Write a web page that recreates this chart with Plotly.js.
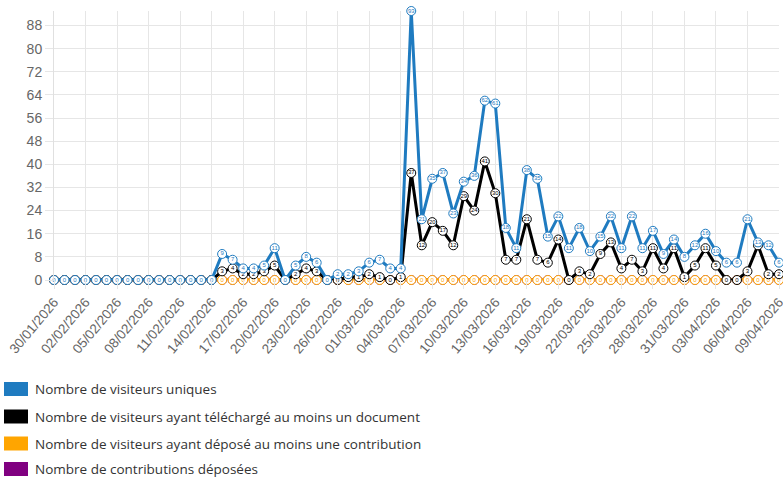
<!DOCTYPE html>
<html>
<head>
<meta charset="utf-8">
<script src="https://cdn.plot.ly/plotly-3.0.1.min.js"></script>
<style>html,body{margin:0;padding:0;background:#fff;}#chart{width:783px;height:477px;}</style>
</head>
<body>
<div id="chart"></div>
<script>
const dates = [
"30/01/2026","31/01/2026","01/02/2026","02/02/2026","03/02/2026","04/02/2026","05/02/2026","06/02/2026","07/02/2026","08/02/2026",
"09/02/2026","10/02/2026","11/02/2026","12/02/2026","13/02/2026","14/02/2026","15/02/2026","16/02/2026","17/02/2026","18/02/2026",
"19/02/2026","20/02/2026","21/02/2026","22/02/2026","23/02/2026","24/02/2026","25/02/2026","26/02/2026","27/02/2026","28/02/2026",
"01/03/2026","02/03/2026","03/03/2026","04/03/2026","05/03/2026","06/03/2026","07/03/2026","08/03/2026","09/03/2026","10/03/2026",
"11/03/2026","12/03/2026","13/03/2026","14/03/2026","15/03/2026","16/03/2026","17/03/2026","18/03/2026","19/03/2026","20/03/2026",
"21/03/2026","22/03/2026","23/03/2026","24/03/2026","25/03/2026","26/03/2026","27/03/2026","28/03/2026","29/03/2026","30/03/2026",
"31/03/2026","01/04/2026","02/04/2026","03/04/2026","04/04/2026","05/04/2026","06/04/2026","07/04/2026","08/04/2026","09/04/2026"
];
const tickLabels = ["30/01/2026","02/02/2026","05/02/2026","08/02/2026","11/02/2026","14/02/2026","17/02/2026","20/02/2026","23/02/2026",
"26/02/2026","01/03/2026","04/03/2026","07/03/2026","10/03/2026","13/03/2026","16/03/2026","19/03/2026","22/03/2026","25/03/2026",
"28/03/2026","31/03/2026","03/04/2026","06/04/2026","09/04/2026"];

const visiteursUniques = [
0,0,0,0,0,0,0,0,0,0,0,0,0,0,0,0,
9,7,4,4,5,11,0,5,8,6,
0,2,2,3,6,7,4,4,93,21,
35,37,23,34,36,62,61,18,11,38,
35,15,22,11,18,10,15,22,11,22,
11,17,9,14,8,12,16,10,6,6,
21,13,12,6];
const visiteursTelechargement = [
0,0,0,0,0,0,0,0,0,0,0,0,0,0,0,0,
3,4,2,2,3,5,0,2,4,3,
0,0,1,1,2,1,0,1,37,12,
20,17,12,29,24,41,30,7,7,21,
7,6,14,0,3,2,9,13,4,7,
3,11,4,11,1,5,11,5,0,0,
3,12,2,2];
const visiteursContribution = [
0,0,0,0,0,0,0,0,0,0,0,0,0,0,0,0,0,0,0,0,
0,0,0,0,0,0,0,0,0,0,0,0,0,0,0,0,0,0,0,0,
0,0,0,0,0,0,0,0,0,0,0,0,0,0,0,0,0,0,0,0,
0,0,0,0,0,0,0,0,0,0];
const contributionsDeposees = [
0,0,0,0,0,0,0,0,0,0,0,0,0,0,0,0,0,0,0,0,
0,0,0,0,0,0,0,0,0,0,0,0,0,0,0,0,0,0,0,0,
0,0,0,0,0,0,0,0,0,0,0,0,0,0,0,0,0,0,0,0,
0,0,0,0,0,0,0,0,0,0];

const seriesNames = [
"Nombre de visiteurs uniques",
"Nombre de visiteurs ayant téléchargé au moins un document",
"Nombre de visiteurs ayant déposé au moins une contribution",
"Nombre de contributions déposées"];
const seriesColors = ["#1f7bc0","#000000","#ffa500","#800080"];
const seriesValues = [visiteursUniques, visiteursTelechargement, visiteursContribution, contributionsDeposees];

// point label only where the point is not hidden under a series drawn above it
function labels(i){
  return seriesValues[i].map((v,k)=>{
    for (let j=0;j<i;j++){ if (seriesValues[j][k]===v) return ""; }
    return String(v);
  });
}
function mk(i){
  return {
    type:"scatter", mode:"lines+markers+text",
    x: dates, y: seriesValues[i], name: seriesNames[i],
    text: labels(i),
    textposition:"middle center",
    textfont:{size:6, color:seriesColors[i], family:"Liberation Sans"},
    line:{color:seriesColors[i], width:3},
    marker:{size:9, color:"#ffffff", line:{color:seriesColors[i], width:1}},
    cliponaxis:false, showlegend:false
  };
}
const traces = [mk(3), mk(2), mk(1), mk(0)];

// legend (Chart.js style boxes)
const L = 54, W = 725, B = 280, H = 269;
const px = p => (p - L)/W;
const py = p => (B - p)/H;
const rows = [389, 416.5, 443.5, 469];
const shapes = [], annotations = [];
rows.forEach((c,i)=>{
  shapes.push({type:"rect", xref:"paper", yref:"paper", x0:px(4), x1:px(28), y0:py(c+7), y1:py(c-7),
    fillcolor:seriesColors[i], line:{width:0}});
  annotations.push({xref:"paper", yref:"paper", x:px(33), y:py(c), xanchor:"left", yanchor:"middle",
    text:seriesNames[i], showarrow:false, font:{family:"Open Sans", size:13.5, color:"#333"}});
});

const layout = {
  width:783, height:477,
  margin:{l:54, r:4, t:11, b:197},
  paper_bgcolor:"#fff", plot_bgcolor:"#fff",
  showlegend:false,
  xaxis:{type:"category", range:[0,69], tickmode:"array", tickvals:tickLabels, ticktext:tickLabels,
    tickangle:-50, showgrid:true, gridcolor:"#e6e6e6", gridwidth:1, ticks:"outside", ticklen:8, tickcolor:"#e6e6e6",
    tickfont:{family:"Liberation Sans", size:13.5, color:"#666"}, zeroline:false, showline:false},
  yaxis:{range:[0,93], tickmode:"array", tickvals:[0,8,16,24,32,40,48,56,64,72,80,88],
    showgrid:true, gridcolor:"#e6e6e6", gridwidth:1, ticks:"outside", ticklen:8, tickcolor:"#e6e6e6",
    tickfont:{family:"Liberation Sans", size:14, color:"#666"}, zeroline:false, showline:true, linecolor:"#e0e0e0"},
  shapes:shapes, annotations:annotations
};
Plotly.newPlot("chart", traces, layout, {displayModeBar:false, staticPlot:true});
</script>
</body>
</html>
